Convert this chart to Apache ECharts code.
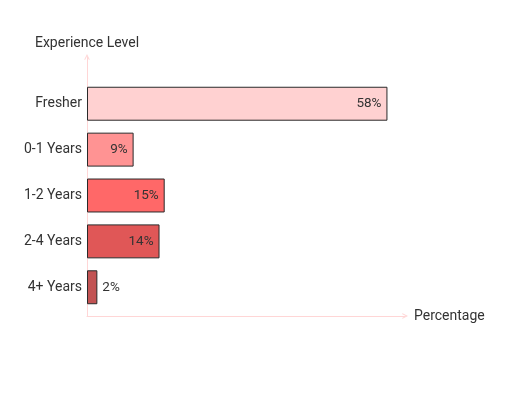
<!DOCTYPE html>
<html>
<head>
<meta charset="utf-8">
<script src="https://cdn.jsdelivr.net/npm/echarts@6/dist/echarts.min.js"></script>
<style>html,body{margin:0;padding:0;background:#fff}#c{width:512px;height:408px}</style>
</head>
<body>
<div id="c"></div>
<script>
const categories = ['Fresher', '0-1 Years', '1-2 Years', '2-4 Years', '4+ Years'];
const values = [58, 9, 15, 14, 2];
const barColors = ['#ffd1d1', '#ff9393', '#ff6868', '#e05757', '#c25353'];
const xAxisName = 'Percentage';
const yAxisName = 'Experience Level';

const chart = echarts.init(document.getElementById('c'), null, {renderer: 'canvas'});
const font = 'Roboto, "Noto Sans", sans-serif';
const axisPink = '#ffd6d6';
const chevron = 'path://M0,10 L5,0 L10,10 L8.6,11 L5,4 L1.4,11 Z';

chart.setOption({
  animation: false,
  textStyle: {fontFamily: font},
  grid: [
    {left: 87, top: 80.8, width: 310.8, height: 229.4},
    {left: 87, right: 107, top: 57, bottom: 92}
  ],
  xAxis: [
    {gridIndex: 0, type: 'value', min: 0, max: 60, show: false},
    {gridIndex: 1, type: 'value', min: 0, max: 1, 
     axisLine: {show: true, lineStyle: {color: axisPink, width: 1}, symbol: ['none', chevron], symbolSize: [10, 6]},
     axisTick: {show: false}, axisLabel: {show: false}, splitLine: {show: false},
     name: xAxisName, nameLocation: 'end', nameGap: 9,
     nameTextStyle: {color: '#333', fontSize: 14, fontFamily: font, padding: [2, 0, 0, 0]}}
  ],
  yAxis: [
    {gridIndex: 0, type: 'category', data: categories, inverse: true,
     axisLine: {show: false}, axisTick: {show: false}, splitLine: {show: false},
     axisLabel: {color: '#333', fontSize: 14, margin: 5, fontFamily: font, padding: [3, 0, 0, 0]}},
    {gridIndex: 1, type: 'value', min: 0, max: 1,
     axisLine: {show: true, lineStyle: {color: axisPink, width: 1}, symbol: ['none', chevron], symbolSize: [10, 6]},
     axisTick: {show: false}, axisLabel: {show: false}, splitLine: {show: false},
     name: yAxisName, nameLocation: 'end', nameGap: 7,
     nameTextStyle: {color: '#333', fontSize: 14, fontFamily: font}}
  ],
  series: [{
    type: 'bar',
    xAxisIndex: 0, yAxisIndex: 0,
    barWidth: '74%',
    data: values.map((v, i) => ({
      value: v,
      itemStyle: {color: barColors[i]},
      label: v < 5 ? {position: 'right', distance: 5} : {}
    })),
    itemStyle: {borderColor: '#2a2a2a', borderWidth: 1},
    label: {show: true, position: 'insideRight', distance: 6, color: '#333', fontSize: 13.5, fontFamily: font,
            padding: [2, 0, 0, 0], formatter: p => p.value + '%'}
  }]
});
</script>
</body>
</html>
